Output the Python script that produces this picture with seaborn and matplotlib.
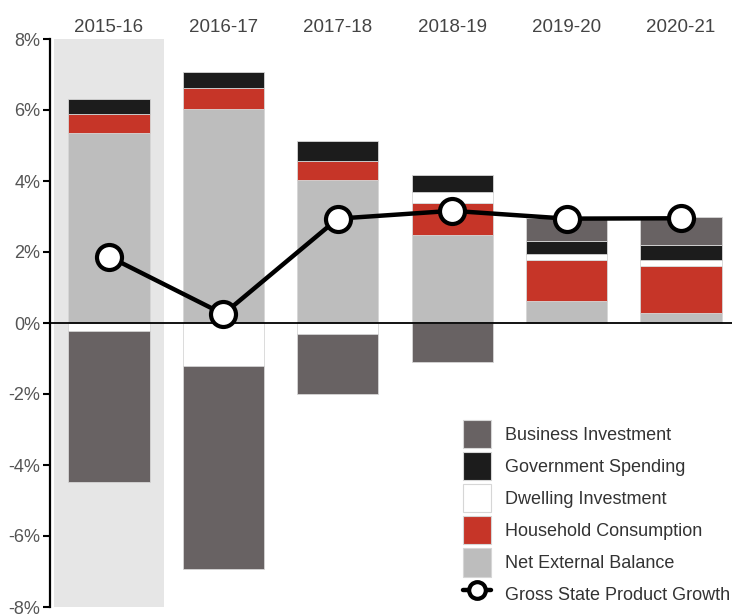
import matplotlib
matplotlib.use('Agg')
import matplotlib.pyplot as plt
import numpy as np
import pandas as pd
import seaborn as sns
from matplotlib.lines import Line2D
from matplotlib.patches import Patch

# data (percentage point contributions)
years = ['2015-16', '2016-17', '2017-18', '2018-19', '2019-20', '2020-21']
net_external = [5.36, 6.03, 4.02, 2.47, 0.61, 0.27]
household = [0.54, 0.58, 0.53, 0.92, 1.16, 1.34]
dwelling = [-0.22, -1.20, -0.31, 0.29, 0.17, 0.16]
government = [0.40, 0.47, 0.58, 0.49, 0.36, 0.44]
business = [-4.26, -5.73, -1.70, -1.10, 0.65, 0.78]
gsp_growth = [1.87, 0.25, 2.94, 3.16, 2.94, 2.95]

components = ['Net External Balance', 'Household Consumption', 'Dwelling Investment',
              'Government Spending', 'Business Investment']
series = [net_external, household, dwelling, government, business]
colors = {'Business Investment': '#686263',
          'Government Spending': '#1c1c1c',
          'Dwelling Investment': '#ffffff',
          'Household Consumption': '#c63528',
          'Net External Balance': '#bdbdbd'}

sns.set_style('white')
plt.rcParams['font.family'] = ['Liberation Sans', 'DejaVu Sans']

fig = plt.figure(figsize=(7.32, 6.14), dpi=100)
ax = fig.add_axes([50 / 732, 1 - 607 / 614, 682 / 732, (607 - 39) / 614])

# highlighted first year
ax.axvspan(-0.48, 0.48, color='#e6e6e6', zorder=0, lw=0)

# stacked bars, positives up from zero, negatives down from zero
pos_base = np.zeros(len(years))
neg_base = np.zeros(len(years))
for name, vals in zip(components, series):
    vals = np.array(vals)
    bottom = np.where(vals >= 0, pos_base, neg_base)
    df = pd.DataFrame({'year': years, 'value': vals})
    sns.barplot(data=df, x='year', y='value', order=years, bottom=bottom,
                color=colors[name], saturation=1, width=0.71, errorbar=None,
                edgecolor='#d6d6d6', linewidth=0.6, ax=ax, zorder=2)
    pos_base = pos_base + np.clip(vals, 0, None)
    neg_base = neg_base + np.clip(vals, None, 0)

# zero line
ax.axhline(0, color='black', lw=1.3, zorder=3)

# growth line
gsp = pd.DataFrame({'year': np.arange(len(years)), 'growth': gsp_growth})
sns.lineplot(data=gsp, x='year', y='growth', color='black', lw=3.2, marker='o',
             markersize=18, markerfacecolor='white', markeredgecolor='black',
             markeredgewidth=3, ax=ax, zorder=4)

ax.set_xlim(-0.516, 5.446)
ax.set_ylim(-8, 8)
ax.set_yticks(range(-8, 9, 2))
ax.set_yticklabels([f'{v}%' for v in range(-8, 9, 2)])
ax.set_xticks(range(len(years)))
ax.set_xticklabels(years)
ax.xaxis.tick_top()
ax.tick_params(axis='x', length=0, pad=2, labelsize=13.5, labelcolor='#444444')
ax.tick_params(axis='y', left=True, direction='out', length=5, width=1.5,
               color='black', pad=2, labelsize=13, labelcolor='#555555')
ax.set_xlabel('')
ax.set_ylabel('')
for side in ['top', 'right', 'bottom']:
    ax.spines[side].set_visible(False)
ax.spines['left'].set_color('black')
ax.spines['left'].set_linewidth(1.6)

# legend
handles = [Patch(facecolor=colors[n], edgecolor='#d6d6d6', lw=0.8)
           for n in ['Business Investment', 'Government Spending', 'Dwelling Investment',
                     'Household Consumption', 'Net External Balance']]
handles.append(Line2D([], [], color='black', lw=3.2, marker='o', markersize=12,
                      markerfacecolor='white', markeredgecolor='black', markeredgewidth=3))
labels = ['Business Investment', 'Government Spending', 'Dwelling Investment',
          'Household Consumption', 'Net External Balance', 'Gross State Product Growth']
fig.legend(handles, labels, loc='upper left', bbox_to_anchor=(463 / 732, 1 - 420 / 614),
           frameon=False, fontsize=13, labelcolor='#333333', handlelength=1.55,
           handleheight=2.02, labelspacing=0.22, handletextpad=0.75,
           borderpad=0, borderaxespad=0)

fig.savefig('out.png', dpi=100)
